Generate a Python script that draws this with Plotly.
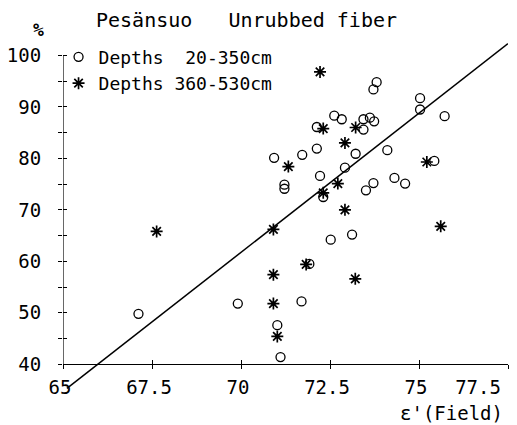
import plotly.graph_objects as go

# ---- data ----
circle_x = [73.81, 73.72, 75.03, 75.03, 75.72, 72.62, 72.83, 73.44, 73.62, 73.74,
            73.44, 72.13, 72.13, 71.72, 70.93, 73.22, 74.11, 72.92, 75.43, 72.22,
            74.31, 74.61, 73.72, 73.51, 71.22, 71.22, 72.31, 72.52, 73.12, 71.92,
            71.70, 71.02, 71.11, 67.12, 69.91]
circle_y = [94.8, 93.4, 91.7, 89.5, 88.2, 88.3, 87.6, 87.6, 87.9, 87.2,
            85.6, 86.1, 81.9, 80.7, 80.1, 80.9, 81.6, 78.2, 79.5, 76.6,
            76.2, 75.1, 75.2, 73.8, 74.9, 74.1, 72.5, 64.2, 65.2, 59.5,
            52.2, 47.6, 41.4, 49.8, 51.8]

star_x = [72.22, 73.22, 72.31, 72.92, 71.33, 75.22, 72.72, 72.31, 72.92, 70.91,
          75.61, 71.83, 70.91, 73.21, 70.91, 71.02, 67.63]
star_y = [96.8, 86.0, 85.8, 83.0, 78.4, 79.3, 75.1, 73.3, 70.0, 66.2,
          66.8, 59.4, 57.4, 56.6, 51.8, 45.4, 65.8]

# regression line end points
fit_x = [65.11, 77.5]
fit_y = [35.3, 102.3]

x_tick_vals = [65, 67.5, 70, 72.5, 75, 77.5]
x_tick_text = ["65", "67.5", "70", "72.5", "75", "77.5"]
y_tick_vals = [40, 45, 50, 55, 60, 65, 70, 75, 80, 85, 90, 95, 100]
y_tick_text = ["40", "", "50", "", "60", "", "70", "", "80", "", "90", "", "100"]

FONT = "DejaVu Sans Mono"
X_RANGE = [65, 77.5]
Y_RANGE = [35, 103]
x_axis_pos = (40 - Y_RANGE[0]) / (Y_RANGE[1] - Y_RANGE[0])

fig = go.Figure()
fig.add_trace(go.Scatter(
    x=circle_x, y=circle_y, mode="markers", name="Depths  20-350cm",
    marker=dict(symbol="circle-open", size=9, color="black", line=dict(width=1.3)),
))
fig.add_trace(go.Scatter(
    x=star_x, y=star_y, mode="markers", name="Depths 360-530cm",
    marker=dict(symbol="asterisk-open", size=10, color="black", line=dict(width=1.7)),
))
fig.add_trace(go.Scatter(
    x=fit_x, y=fit_y, mode="lines", showlegend=False,
    line=dict(color="black", width=1.5), xaxis="x2", yaxis="y2",
))
# carrier for the last x label axis (plotter shifts "77.5" left to fit)
fig.add_trace(go.Scatter(x=[], y=[], showlegend=False, xaxis="x3", yaxis="y2"))

axis_common = dict(showgrid=False, zeroline=False, ticklen=4, tickwidth=1.2,
                   tickcolor="black", fixedrange=True, automargin=False)
fig.update_layout(
    # page body has an 8px margin, so the figure is 8px smaller than the window
    width=509, height=417,
    paper_bgcolor="white", plot_bgcolor="white",
    font=dict(family=FONT, color="black", size=19),
    margin=dict(l=55, r=9, t=32, b=35),
    xaxis=dict(range=X_RANGE, anchor="free", position=x_axis_pos, ticks="outside",
               tickvals=x_tick_vals[:-1], ticktext=x_tick_text[:-1], showline=True,
               linecolor="black", linewidth=1.2, ticklabelstandoff=2,
               ticklabelshift=-3, **axis_common),
    yaxis=dict(range=Y_RANGE, ticks="outside", tickvals=y_tick_vals, ticktext=y_tick_text,
               showline=False, ticklabelstandoff=13, **axis_common),
    xaxis2=dict(range=X_RANGE, overlaying="x", anchor="free", position=x_axis_pos,
                ticks="inside", tickvals=x_tick_vals, showticklabels=False, **axis_common),
    yaxis2=dict(range=Y_RANGE, overlaying="y", anchor="x2", side="left", ticks="inside",
                tickvals=y_tick_vals, showticklabels=False, **axis_common),
    xaxis3=dict(range=X_RANGE, overlaying="x", anchor="free", position=x_axis_pos,
                ticks="outside", tickvals=x_tick_vals[-1:], ticktext=x_tick_text[-1:],
                ticklabelstandoff=2, ticklabelshift=-30, ticklabeloverflow="allow",
                **axis_common),
    legend=dict(x=-0.010, y=1.004, xanchor="left", yanchor="top",
                bgcolor="rgba(0,0,0,0)", font=dict(size=18, family=FONT), itemwidth=30),
    showlegend=True,
)

# y axis line only over 40..100
fig.add_shape(type="line", xref="x", yref="y", x0=65, x1=65, y0=40, y1=100,
              line=dict(color="black", width=1.2))

fig.add_annotation(text="Pesänsuo   Unrubbed fiber", xref="paper", yref="paper",
                   x=0.069, y=1.058, xanchor="left", yanchor="middle",
                   showarrow=False, font=dict(size=20, family=FONT))
fig.add_annotation(text="<b>%</b>", xref="paper", yref="paper", x=-0.056, y=1.03,
                   xanchor="center", yanchor="middle", showarrow=False,
                   font=dict(size=18, family=FONT))
fig.add_annotation(text="ε'(Field)", xref="paper", yref="paper", x=0.993, y=-0.066,
                   xanchor="right", yanchor="middle", showarrow=False,
                   font=dict(size=19, family=FONT))

fig.write_html("out.html")
